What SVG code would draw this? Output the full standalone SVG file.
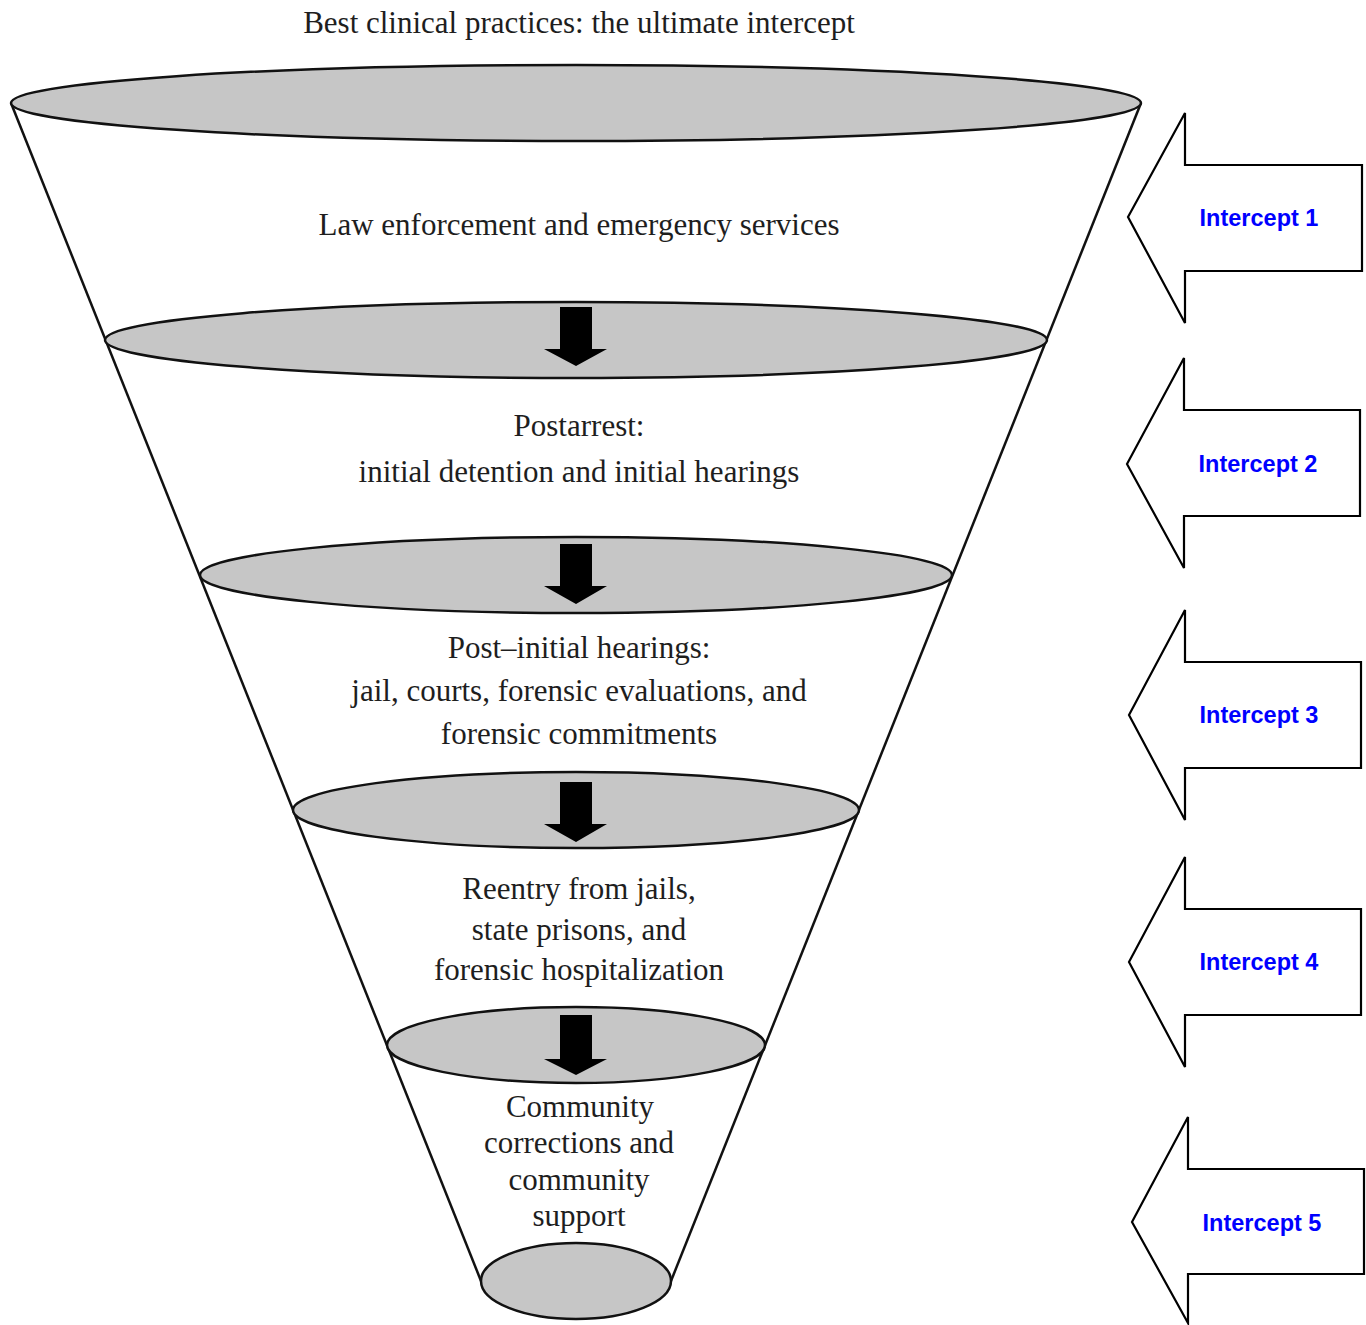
<svg xmlns="http://www.w3.org/2000/svg" width="1366" height="1325" viewBox="0 0 1366 1325">
<style>
.disc{fill:#c6c6c6;stroke:#111;stroke-width:2.5}
.side{stroke:#111;stroke-width:2.5;fill:none}
.down{fill:#000}
.t{font-family:"Liberation Serif","Times New Roman",serif;font-size:31px;fill:#1e1e1e;text-anchor:middle}
.ia{fill:#fff;stroke:#000;stroke-width:2.2;stroke-linejoin:miter}
.il{font-family:"Liberation Sans",Arial,sans-serif;font-weight:bold;font-size:23.5px;fill:#0000ff;text-anchor:middle}
</style>
<rect width="1366" height="1325" fill="#fff"/>
<g id="title"><text class="t" x="579" y="33">Best clinical practices: the ultimate intercept</text></g>
<g id="funnel-sides">
<line class="side" x1="11" y1="103" x2="481" y2="1281"/>
<line class="side" x1="1141" y1="103" x2="671" y2="1281"/>
</g>
<g id="level0"><ellipse class="disc" cx="576" cy="103" rx="565" ry="38"/></g>
<g id="level1">
<ellipse class="disc" cx="576" cy="340" rx="471" ry="38"/>
<text class="t" x="579" y="235">Law enforcement and emergency services</text>
</g>
<g id="level2">
<ellipse class="disc" cx="576" cy="575" rx="376" ry="38"/>
<text class="t" x="579" y="436">Postarrest:</text>
<text class="t" x="579" y="482">initial detention and initial hearings</text>
</g>
<g id="level3">
<ellipse class="disc" cx="576" cy="810" rx="283" ry="38"/>
<text class="t" x="579" y="658">Post–initial hearings:</text>
<text class="t" x="579" y="701">jail, courts, forensic evaluations, and</text>
<text class="t" x="579" y="744">forensic commitments</text>
</g>
<g id="level4">
<ellipse class="disc" cx="576" cy="1045" rx="189" ry="38"/>
<text class="t" x="579" y="899">Reentry from jails,</text>
<text class="t" x="579" y="940">state prisons, and</text>
<text class="t" x="579" y="980">forensic hospitalization</text>
</g>
<g id="level5">
<ellipse class="disc" cx="576" cy="1281" rx="95" ry="38"/>
<text class="t" x="580" y="1117">Community</text>
<text class="t" x="579" y="1153">corrections and</text>
<text class="t" x="579" y="1190">community</text>
<text class="t" x="579" y="1226">support</text>
</g>
<g id="connectors">
<path class="down" d="M560 307H592V349H607L576 366L544 349H560Z"/>
<path class="down" d="M560 544H592V586H607L576 604L544 586H560Z"/>
<path class="down" d="M560 782H592V824H607L576 842L544 824H560Z"/>
<path class="down" d="M560 1015H592V1059H607L576 1075L544 1059H560Z"/>
</g>
<g id="intercept1">
<path class="ia" d="M1128 217L1185 113V165H1362V271H1185V323Z"/>
<text class="il" x="1259" y="226">Intercept 1</text>
</g>
<g id="intercept2">
<path class="ia" d="M1127 464L1184 358V410H1360V516H1184V568Z"/>
<text class="il" x="1258" y="472">Intercept 2</text>
</g>
<g id="intercept3">
<path class="ia" d="M1129 715L1185 610V662H1361V768H1185V820Z"/>
<text class="il" x="1259" y="723">Intercept 3</text>
</g>
<g id="intercept4">
<path class="ia" d="M1129 962L1185 857V909H1361V1015H1185V1067Z"/>
<text class="il" x="1259" y="970">Intercept 4</text>
</g>
<g id="intercept5">
<path class="ia" d="M1132 1222L1188 1117V1169H1364V1274H1188V1323Z"/>
<text class="il" x="1262" y="1231">Intercept 5</text>
</g>
</svg>
